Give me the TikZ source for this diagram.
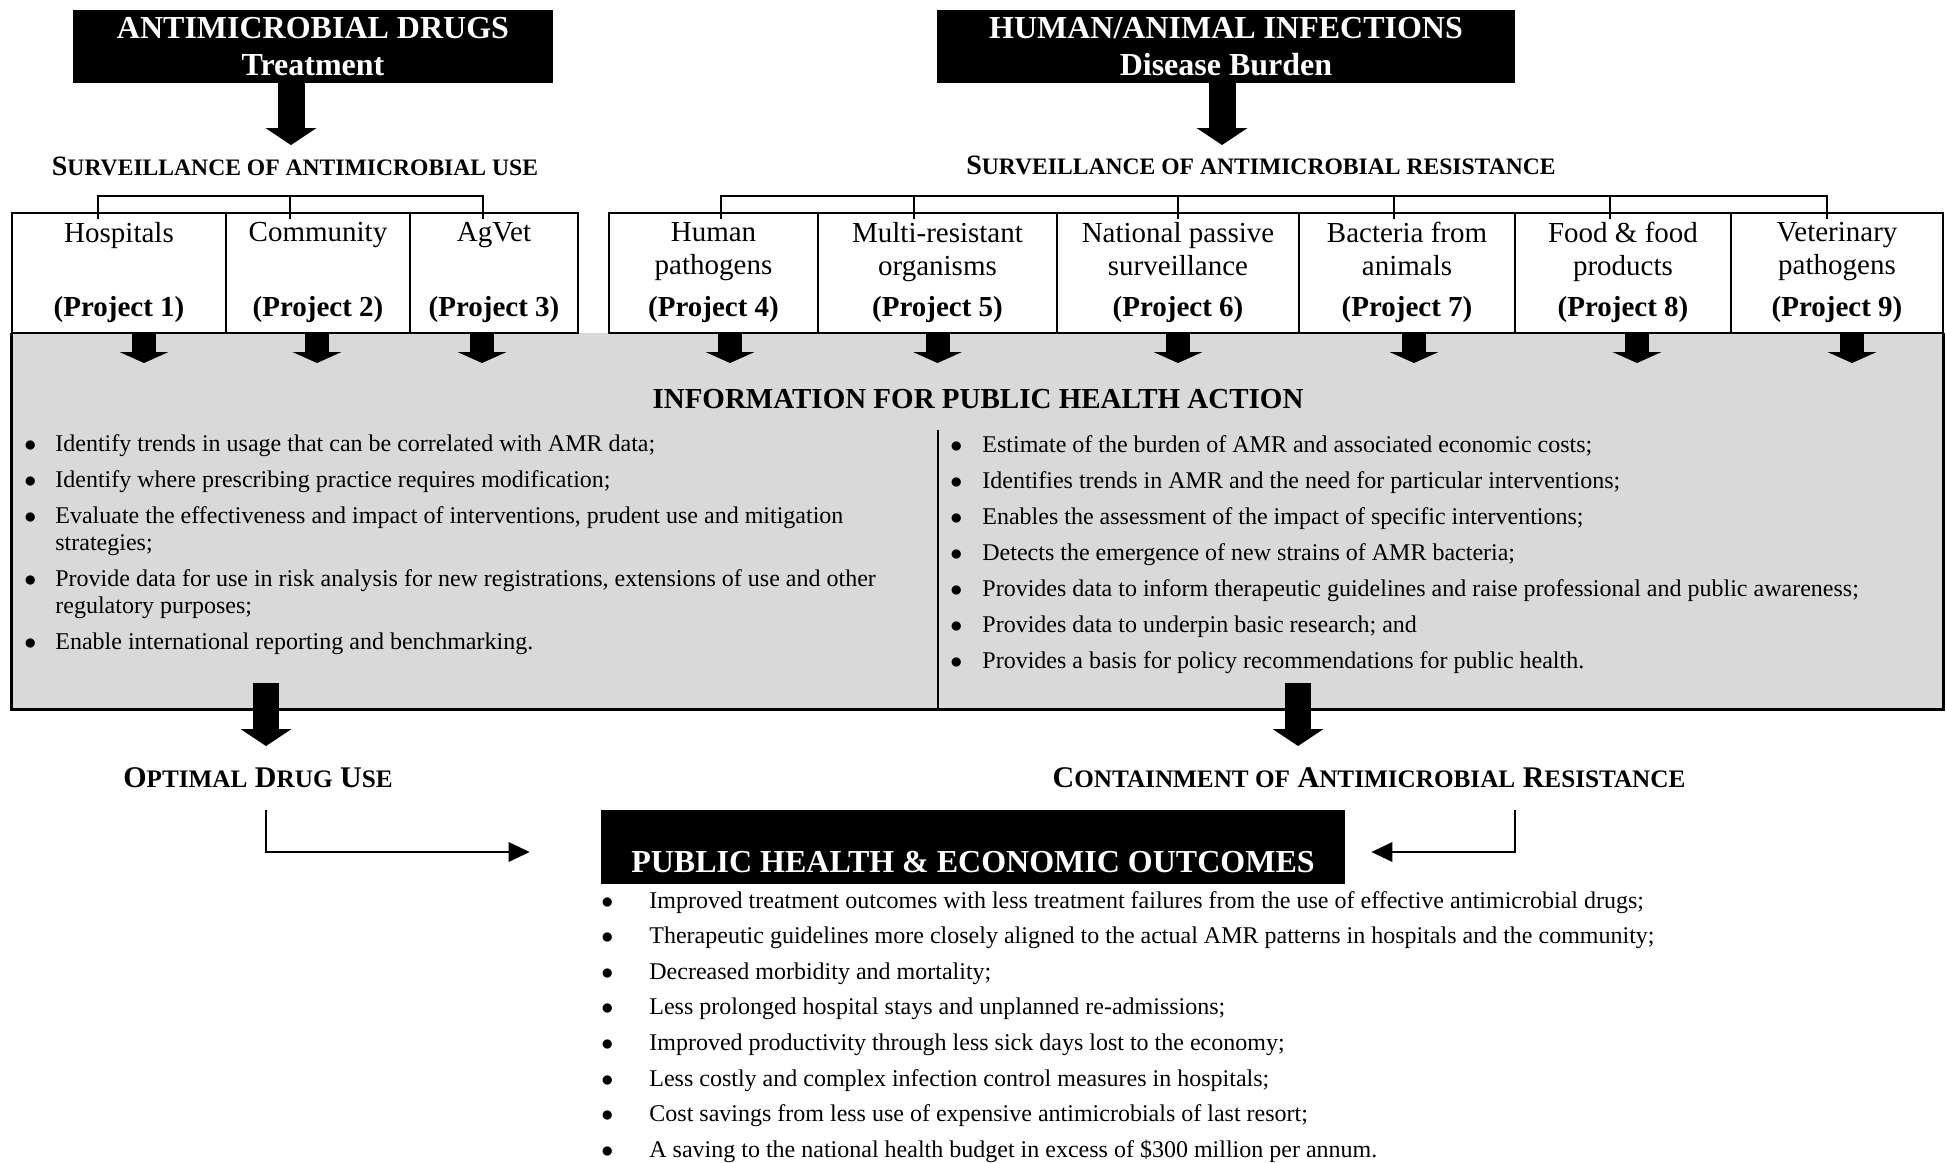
\documentclass[tikz,border=0pt]{standalone}
\usepackage{fontspec}
\setmainfont{Liberation Serif}
\usetikzlibrary{positioning, arrows.meta}
\definecolor{panelgray}{RGB}{217,217,217}
\newcommand{\sclow}[1]{{\fontsize{11.8pt}{14pt}\selectfont #1}}
\newcommand{\sclowb}[1]{{\fontsize{12.6pt}{15pt}\selectfont #1}}
\newcommand{\bdot}{$\bullet$}
\tikzset{
	headbox/.style={fill=black, text=white, inner sep=0pt, align=center,
		font=\fontsize{16pt}{18.5pt}\selectfont\bfseries}
}
\tikzset{
	sctitle/.style={anchor=base, inner sep=0pt, font=\fontsize{14pt}{16pt}\selectfont\bfseries},
	sctitleb/.style={anchor=base, inner sep=0pt, font=\fontsize{15pt}{17pt}\selectfont\bfseries}
}
\tikzset{
	cellbox/.style={draw=black, line width=1pt, minimum height=60pt, inner sep=0pt},
	celltext/.style={anchor=north, inner sep=0pt, align=center, font=\fontsize{14.5pt}{16.5pt}\selectfont},
	projtext/.style={anchor=base, inner sep=0pt, font=\fontsize{14.5pt}{16.5pt}\selectfont\bfseries}
}
\tikzset{
	fatarrow/.style={line width=13.5pt, -{Triangle[width=25.5pt,length=8.5pt,line width=0pt]}},
	stubarrow/.style={line width=12pt, -{Triangle[width=24.5pt,length=5.5pt,line width=0pt]}},
	thinarrow/.style={line width=0.75pt, -{Triangle[width=10pt,length=10.5pt,line width=0pt]}},
	bracket/.style={line width=0.7pt}
}

\begin{document}
\begin{tikzpicture}[x=0.5pt,y=-0.5pt]
\useasboundingbox (0,0) rectangle (1946,1162);

% headers
\node[headbox, minimum width=240pt, minimum height=36.5pt] (drugs) at (313,46.5) {ANTIMICROBIAL DRUGS\\Treatment};
\node[headbox, minimum width=289pt, minimum height=36.5pt] (infect) at (1226,46.5) {HUMAN/ANIMAL INFECTIONS\\Disease Burden};

\node[sctitle] (survuse) at (295,175) {S\sclow{URVEILLANCE OF ANTIMICROBIAL USE}};
\node[sctitle] (survres) at (1261,174) {S\sclow{URVEILLANCE OF ANTIMICROBIAL RESISTANCE}};

\coordinate (usetip) at (291,145);
\coordinate (restip) at (1222,145);
\draw[fatarrow] (drugs.south -| usetip) -- (usetip);
\draw[fatarrow] (infect.south -| restip) -- (restip);

% information panel
\node[fill=panelgray, minimum width=965.5pt, minimum height=188pt, inner sep=0pt] (info) at (977.5,521) {};
\draw[line width=1.2pt] (info.north west) -- (info.south west) -- (info.south east) -- (info.north east);
\coordinate (splittop) at (938,430);
\draw[line width=0.8pt] (splittop) -- (splittop |- info.south);

\node[anchor=base, inner sep=0pt, font=\fontsize{14.5pt}{16pt}\selectfont\bfseries] (infotitle) at (978,408) {INFORMATION FOR PUBLIC HEALTH ACTION};

% surveillance cells
\node[cellbox, minimum width=107pt] (hosp) at (119,273) {};
\node[cellbox, minimum width=92pt] (comm) at (318,273) {};
\node[cellbox, minimum width=84pt] (agvet) at (494,273) {};
\node[cellbox, minimum width=104.5pt] (humpath) at (713.5,273) {};
\node[cellbox, minimum width=119.5pt] (multires) at (937.5,273) {};
\node[cellbox, minimum width=121pt] (natpass) at (1178,273) {};
\node[cellbox, minimum width=108pt] (bactanim) at (1407,273) {};
\node[cellbox, minimum width=108pt] (foodprod) at (1623,273) {};
\node[cellbox, minimum width=106pt] (vetpath) at (1837,273) {};

\node[celltext] (hospname) at (119,222) {Hospitals};
\node[celltext] (commname) at (318,222) {Community};
\node[celltext] (agvetname) at (494,222) {AgVet};
\node[celltext] (humpathname) at (713.5,222) {Human\\pathogens};
\node[celltext] (multiresname) at (937.5,222) {Multi-resistant\\organisms};
\node[celltext] (natpassname) at (1178,222) {National passive\\surveillance};
\node[celltext] (bactanimname) at (1407,222) {Bacteria from\\animals};
\node[celltext] (foodprodname) at (1623,222) {Food \& food\\products};
\node[celltext] (vetpathname) at (1837,222) {Veterinary\\pathogens};

\node[projtext] (proj1) at (119,316) {(Project 1)};
\node[projtext] (proj2) at (318,316) {(Project 2)};
\node[projtext] (proj3) at (494,316) {(Project 3)};
\node[projtext] (proj4) at (713.5,316) {(Project 4)};
\node[projtext] (proj5) at (937.5,316) {(Project 5)};
\node[projtext] (proj6) at (1178,316) {(Project 6)};
\node[projtext] (proj7) at (1407,316) {(Project 7)};
\node[projtext] (proj8) at (1623,316) {(Project 8)};
\node[projtext] (proj9) at (1837,316) {(Project 9)};

% brackets
\coordinate (usebar) at (0,196);
\draw[bracket] ([xshift=-10.5pt,yshift=-3.5pt]hosp.north) -- ([xshift=-10.5pt]hosp.north |- usebar)
  -- ([xshift=-5.5pt]agvet.north |- usebar) -- ([xshift=-5.5pt,yshift=-3.5pt]agvet.north);
\draw[bracket] ([xshift=-14pt,yshift=-3.5pt]comm.north) -- ([xshift=-14pt]comm.north |- usebar);
\draw[bracket] ([xshift=3.75pt,yshift=-3.5pt]humpath.north) -- ([xshift=3.75pt]humpath.north |- usebar)
  -- ([xshift=-5pt]vetpath.north |- usebar) -- ([xshift=-5pt,yshift=-3.5pt]vetpath.north);
\draw[bracket] ([xshift=-11.75pt,yshift=-3.5pt]multires.north) -- ([xshift=-11.75pt]multires.north |- usebar);
\draw[bracket] ([yshift=-3.5pt]natpass.north) -- (natpass.north |- usebar);
\draw[bracket] ([xshift=-6.5pt,yshift=-3.5pt]bactanim.north) -- ([xshift=-6.5pt]bactanim.north |- usebar);
\draw[bracket] ([xshift=-6.5pt,yshift=-3.5pt]foodprod.north) -- ([xshift=-6.5pt]foodprod.north |- usebar);

% arrows into the panel
\coordinate (stubtips) at (0,363);
\draw[stubarrow] ([xshift=12.5pt]hosp.south) -- ([xshift=12.5pt]hosp.south |- stubtips);
\draw[stubarrow] ([xshift=-0.5pt]comm.south) -- ([xshift=-0.5pt]comm.south |- stubtips);
\draw[stubarrow] ([xshift=-6pt]agvet.south) -- ([xshift=-6pt]agvet.south |- stubtips);
\draw[stubarrow] ([xshift=8.25pt]humpath.south) -- ([xshift=8.25pt]humpath.south |- stubtips);
\draw[stubarrow] (multires.south) -- (multires.south |- stubtips);
\draw[stubarrow] (natpass.south) -- (natpass.south |- stubtips);
\draw[stubarrow] ([xshift=3.5pt]bactanim.south) -- ([xshift=3.5pt]bactanim.south |- stubtips);
\draw[stubarrow] ([xshift=7pt]foodprod.south) -- ([xshift=7pt]foodprod.south |- stubtips);
\draw[stubarrow] ([xshift=7.5pt]vetpath.south) -- ([xshift=7.5pt]vetpath.south |- stubtips);

% bullet lists
\node[anchor=base west, inner sep=0pt, font=\fontsize{12pt}{13.5pt}\selectfont] (uselist) at (24,451) {%
\begin{tabular}[t]{@{}p{15.5pt}@{}l@{}}
\bdot & Identify trends in usage that can be correlated with AMR data;\\[4.5pt]
\bdot & Identify where prescribing practice requires modification;\\[4.5pt]
\bdot & Evaluate the effectiveness and impact of interventions, prudent use and mitigation\\
 & strategies;\\[4.5pt]
\bdot & Provide data for use in risk analysis for new registrations, extensions of use and other\\
 & regulatory purposes;\\[4.5pt]
\bdot & Enable international reporting and benchmarking.
\end{tabular}};

\node[anchor=base west, inner sep=0pt, font=\fontsize{12pt}{13.5pt}\selectfont] (reslist) at (950,452) {%
\begin{tabular}[t]{@{}p{16pt}@{}l@{}}
\bdot & Estimate of the burden of AMR and associated economic costs;\\[4.5pt]
\bdot & Identifies trends in AMR and the need for particular interventions;\\[4.5pt]
\bdot & Enables the assessment of the impact of specific interventions;\\[4.5pt]
\bdot & Detects the emergence of new strains of AMR bacteria;\\[4.5pt]
\bdot & Provides data to inform therapeutic guidelines and raise professional and public awareness;\\[4.5pt]
\bdot & Provides data to underpin basic research; and\\[4.5pt]
\bdot & Provides a basis for policy recommendations for public health.
\end{tabular}};

% down to the goals
\coordinate (stemtop) at (0,683);
\coordinate (usedown) at (266,746);
\coordinate (resdown) at (1298,746);
\draw[fatarrow, line width=13pt] (stemtop -| usedown) -- (usedown);
\draw[fatarrow, line width=13pt] (stemtop -| resdown) -- (resdown);

\node[sctitleb] (optimal) at (258,787) {O\sclowb{PTIMAL} D\sclowb{RUG} U\sclowb{SE}};
\node[sctitleb] (contain) at (1369,787) {C\sclowb{ONTAINMENT OF} A\sclowb{NTIMICROBIAL} R\sclowb{ESISTANCE}};

\node[headbox, minimum width=372pt, minimum height=37pt, text height=30pt, text depth=5pt] (outcomes) at (973,847) {PUBLIC HEALTH \& ECONOMIC OUTCOMES};

\draw[thinarrow] ([xshift=4pt,yshift=-11pt]optimal.south) |- ([xshift=-35.5pt,yshift=-2.5pt]outcomes.west);
\draw[thinarrow] ([xshift=73pt,yshift=-11pt]contain.south) |- ([xshift=13pt,yshift=-2.5pt]outcomes.east);

\node[anchor=base west, inner sep=0pt, font=\fontsize{12pt}{17.8pt}\selectfont] (outlist) at (601,908) {%
\begin{tabular}[t]{@{}p{24pt}@{}l@{}}
\bdot & Improved treatment outcomes with less treatment failures from the use of effective antimicrobial drugs;\\
\bdot & Therapeutic guidelines more closely aligned to the actual AMR patterns in hospitals and the community;\\
\bdot & Decreased morbidity and mortality;\\
\bdot & Less prolonged hospital stays and unplanned re-admissions;\\
\bdot & Improved productivity through less sick days lost to the economy;\\
\bdot & Less costly and complex infection control measures in hospitals;\\
\bdot & Cost savings from less use of expensive antimicrobials of last resort;\\
\bdot & A saving to the national health budget in excess of \$300 million per annum.
\end{tabular}};
\end{tikzpicture}
\end{document}
